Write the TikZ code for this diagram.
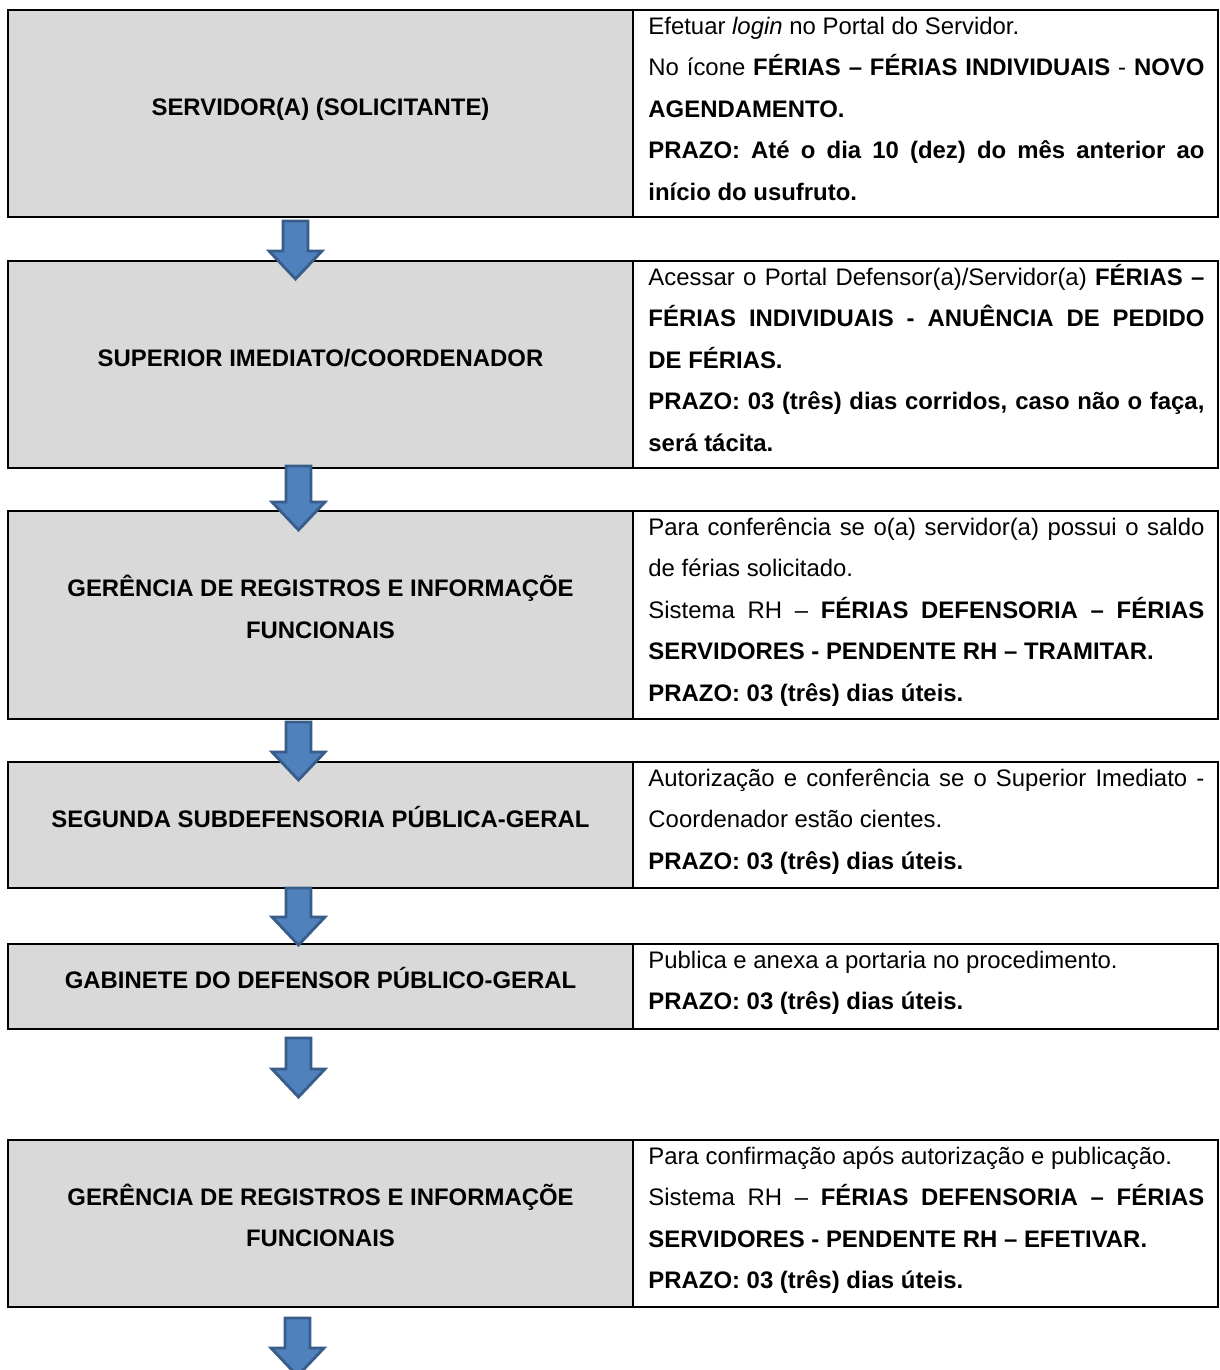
\documentclass[tikz,border=0pt]{standalone}
\usepackage{fontspec}
\setmainfont{Liberation Sans}
\usetikzlibrary{positioning}
\definecolor{cinza}{HTML}{D9D9D9}
\definecolor{azulseta}{HTML}{4F81BD}
\definecolor{bordaseta}{HTML}{385D8A}
\newdimen\px \px=0.46pt
\newcommand{\topo}{\rule{0pt}{11pt}}
\hyphenpenalty=10000
\exhyphenpenalty=10000
\tikzset{
  celula/.style={rectangle, draw=black, line width=1pt, outer sep=0pt, inner sep=0pt},
  etapa/.style={celula, fill=cinza, minimum width=625*\px},
  acao/.style={celula, minimum width=585*\px},
  titulo/.style={font=\fontsize{11}{19.09}\selectfont\bfseries, align=center, inner sep=0pt},
  umalinha/.style={text height=10pt, text depth=2.5pt, yshift=2.76pt},
  duaslinhas/.style={yshift=3.7pt},
  descricao/.style={font=\fontsize{11}{19.09}\selectfont, text width=556*\px,
    align=justify, inner sep=0pt, anchor=north west},
  pics/seta/.style={code={
    \draw[fill=azulseta, draw=bordaseta, line width=1.3pt]
      (-12.5,0) -- (12.5,0) -- (12.5,#1-28) -- (26.5,#1-28) -- (0,#1)
      -- (-26.5,#1-28) -- (-12.5,#1-28) -- cycle;
  }}
}

\begin{document}
\begin{tikzpicture}[x=0.46pt, y=-0.46pt]
  \clip (0,0) rectangle (1219,1370);

  % etapas (coluna cinza)
  \node[etapa, minimum height=207*\px, anchor=north west] (e1) at (8,10) {};
  \node[etapa, minimum height=207*\px, below=44*\px of e1] (e2) {};
  \node[etapa, minimum height=208*\px, below=43*\px of e2] (e3) {};
  \node[etapa, minimum height=126*\px, below=43*\px of e3] (e4) {};
  \node[etapa, minimum height=85*\px, below=56*\px of e4] (e5) {};
  \node[etapa, minimum height=167*\px, below=111*\px of e5] (e6) {};

  % acoes (coluna branca)
  \node[acao, minimum height=207*\px, right=0pt of e1] (a1) {};
  \node[acao, minimum height=207*\px, right=0pt of e2] (a2) {};
  \node[acao, minimum height=208*\px, right=0pt of e3] (a3) {};
  \node[acao, minimum height=126*\px, right=0pt of e4] (a4) {};
  \node[acao, minimum height=85*\px, right=0pt of e5] (a5) {};
  \node[acao, minimum height=167*\px, right=0pt of e6] (a6) {};

  % titulos
  \node[titulo, umalinha] (t1) at (e1.center) {SERVIDOR(A) (SOLICITANTE)};
  \node[titulo, umalinha] (t2) at (e2.center) {SUPERIOR IMEDIATO/COORDENADOR};
  \node[titulo, duaslinhas] (t3) at (e3.center) {GERÊNCIA DE REGISTROS E INFORMAÇÕE\\FUNCIONAIS};
  \node[titulo, umalinha] (t4) at (e4.center) {SEGUNDA SUBDEFENSORIA PÚBLICA-GERAL};
  \node[titulo, umalinha] (t5) at (e5.center) {GABINETE DO DEFENSOR PÚBLICO-GERAL};
  \node[titulo, duaslinhas] (t6) at (e6.center) {GERÊNCIA DE REGISTROS E INFORMAÇÕE\\FUNCIONAIS};

  % textos
  \node[descricao] (d1) at ([xshift=15*\px]a1.north west) {\topo Efetuar \textit{login} no Portal do Servidor.\\
    No ícone \textbf{FÉRIAS – FÉRIAS INDIVIDUAIS} - \textbf{NOVO}\linebreak
    \textbf{AGENDAMENTO.}\\
    \textbf{PRAZO: Até o dia 10 (dez) do mês anterior ao}\linebreak
    \textbf{início do usufruto.}};
  \node[descricao] (d2) at ([xshift=15*\px]a2.north west) {\topo Acessar o Portal Defensor(a)/Servidor(a) \textbf{FÉRIAS –}\linebreak
    \textbf{FÉRIAS INDIVIDUAIS - ANUÊNCIA DE PEDIDO}\linebreak
    \textbf{DE FÉRIAS.}\\
    \textbf{PRAZO: 03 (três) dias corridos, caso não o faça,}\linebreak
    \textbf{será tácita.}};
  \node[descricao] (d3) at ([xshift=15*\px]a3.north west) {\topo Para conferência se o(a) servidor(a) possui o saldo\linebreak
    de férias solicitado.\\
    Sistema RH – \textbf{FÉRIAS DEFENSORIA – FÉRIAS}\linebreak
    \textbf{SERVIDORES - PENDENTE RH – TRAMITAR.}\\
    \textbf{PRAZO: 03 (três) dias úteis.}};
  \node[descricao] (d4) at ([xshift=15*\px]a4.north west) {\topo Autorização e conferência se o Superior Imediato -\linebreak
    Coordenador estão cientes.\\
    \textbf{PRAZO: 03 (três) dias úteis.}};
  \node[descricao] (d5) at ([xshift=15*\px]a5.north west) {\topo Publica e anexa a portaria no procedimento.\\
    \textbf{PRAZO: 03 (três) dias úteis.}};
  \node[descricao] (d6) at ([xshift=15*\px]a6.north west) {\topo Para confirmação após autorização e publicação.\\
    Sistema RH – \textbf{FÉRIAS DEFENSORIA – FÉRIAS}\linebreak
    \textbf{SERVIDORES - PENDENTE RH – EFETIVAR.}\\
    \textbf{PRAZO: 03 (três) dias úteis.}};

  % setas
  \pic (s1) at ([xshift=-25*\px, yshift=-4*\px]e1.south) {seta=58};
  \pic (s2) at ([xshift=-22*\px, yshift=2*\px]e2.south) {seta=64};
  \pic (s3) at ([xshift=-22*\px, yshift=-3*\px]e3.south) {seta=58};
  \pic (s4) at ([xshift=-22*\px]e4.south) {seta=57};
  \pic (s5) at ([xshift=-22*\px, yshift=-9*\px]e5.south) {seta=59};
  \pic (s6) at ([xshift=-23*\px, yshift=-11*\px]e6.south) {seta=58};
\end{tikzpicture}
\end{document}
